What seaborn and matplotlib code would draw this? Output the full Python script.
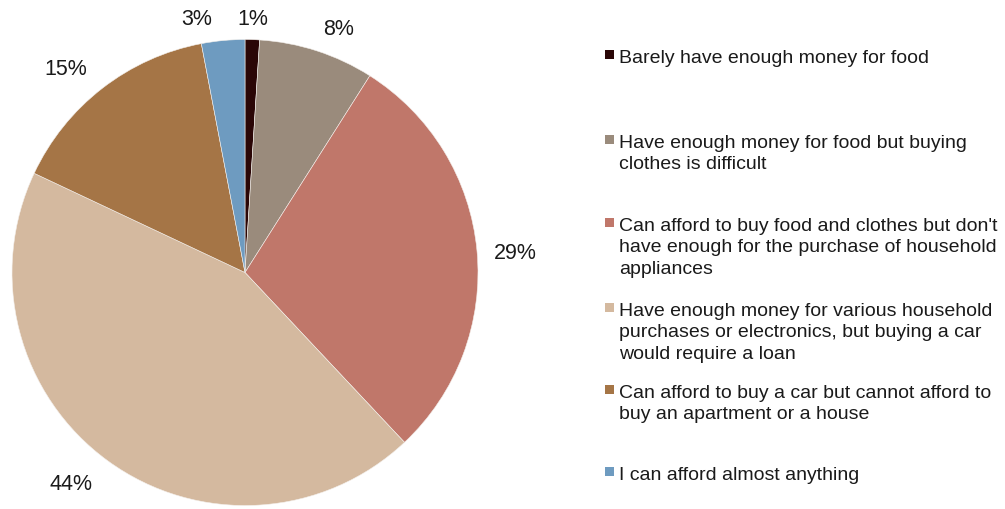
import matplotlib
matplotlib.use("Agg")
import matplotlib.pyplot as plt
import seaborn as sns
import numpy as np
from matplotlib.patches import Rectangle

sns.set_theme(style="white")
plt.rcParams['font.family'] = ['Liberation Sans', 'DejaVu Sans']

categories = [
    "Barely have enough money for food",
    "Have enough money for food but buying\nclothes is difficult",
    "Can afford to buy food and clothes but don't\nhave enough for the purchase of household\nappliances",
    "Have enough money for various household\npurchases or electronics, but buying a car\nwould require a loan",
    "Can afford to buy a car but cannot afford to\nbuy an apartment or a house",
    "I can afford almost anything",
]
values = [1, 8, 29, 44, 15, 3]
labels = ["1%", "8%", "29%", "44%", "15%", "3%"]
colors = ["#2a0606", "#9a8b7c", "#c0776a", "#d4b99f", "#a57546", "#6e9bc0"]

W, H = 1005, 510
fs = 14
lfs = 15.5
fig = plt.figure(figsize=(W / 100, H / 100), dpi=100)
cx, cy, r = 245, 273.5, 233
ax = fig.add_axes([(cx - r) / W, (H - cy - r) / H, 2 * r / W, 2 * r / H])
wedges, _ = ax.pie(values, colors=colors, startangle=90, counterclock=False,
                   wedgeprops=dict(edgecolor="#f4f0ec", linewidth=0.4))
ax.set_xlim(-1, 1)
ax.set_ylim(-1, 1)
ax.set_aspect("equal")
ax.axis("off")

# outside percentage labels, box edge placed just outside the rim
hw = 21 / r
hh = 10 / r
# small pixel adjustments (x right, y down) mimicking Excel's label placement
nudge_px = {0: (0, 1), 1: (13, 4), 2: (5, 5), 3: (-18, -3), 4: (-17, 6), 5: (-24, 1)}
for i, (w, lab) in enumerate(zip(wedges, labels)):
    ang = np.deg2rad((w.theta1 + w.theta2) / 2)
    c, s = np.cos(ang), np.sin(ang)
    d = 1.05 + abs(c) * hw + abs(s) * hh
    ndx, ndy = nudge_px.get(i, (0, 0))
    ax.text(d * c + ndx / r, d * s - ndy / r, lab, ha="center", va="center",
            fontsize=lfs, color="#1a1a1a")

# legend
tops = [56, 141, 224, 309, 391, 473]
for cat, col, top in zip(categories, colors, tops):
    fig.text(619 / W, 1 - (top - 6) / H, cat, fontsize=fs, color="#1a1a1a",
             ha="left", va="top", linespacing=1.33)
    fig.patches.append(Rectangle((605 / W, 1 - (top + 4) / H), 9 / W, 9 / H,
                                 transform=fig.transFigure, facecolor=col,
                                 edgecolor="none"))

fig.savefig("out.png", dpi=100, facecolor="white")
